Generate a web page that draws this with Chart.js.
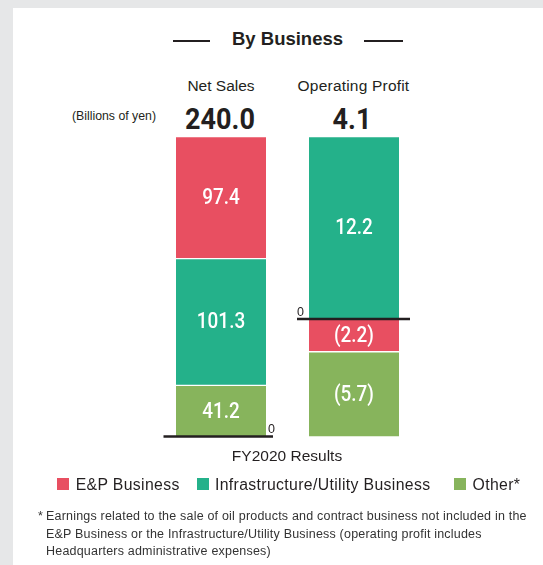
<!DOCTYPE html>
<html>
<head>
<meta charset="utf-8">
<script src="https://cdn.jsdelivr.net/npm/chart.js@4/dist/chart.umd.min.js"></script>
<style>
  html, body { margin: 0; padding: 0; }
  body { width: 543px; height: 565px; overflow: hidden; position: relative; background: #e6e7e8;
         font-family: "Liberation Sans", Arial, Helvetica, sans-serif; color: #231f20; }
  .panel { position: absolute; left: 13px; top: 8px; right: 0; bottom: 0; background: #fff; }
  .wrap { position: absolute; left: 0; top: 0; width: 543px; height: 565px; }
  .t { position: absolute; white-space: nowrap; line-height: 1; }
  .c { transform: translateX(-50%); }
  .rule { position: absolute; height: 2px; background: #231f20; }
  .sw { position: absolute; width: 12px; height: 12px; }
  .total { font-family: Roboto, "Liberation Sans", sans-serif; font-weight: 700; font-size: 30px; }
  .note { position: absolute; left: 46px; top: 508px; font-size: 12.5px; letter-spacing: 0.2px; line-height: 17.5px; white-space: nowrap; color: #333; }
  .note .star { position: absolute; left: -8px; top: 0; }
</style>
</head>
<body>
<div class="panel"></div>

<!-- heading -->
<div class="rule" style="left:173px;top:40px;width:37px"></div>
<div class="t c" style="left:287.5px;top:30px;font-size:18.5px;font-weight:bold">By Business</div>
<div class="rule" style="left:364px;top:40px;width:39px"></div>

<div class="t c" id="cat0" style="left:221px;top:77.6px;font-size:15.5px"></div>
<div class="t c" id="cat1" style="left:353.5px;top:77.6px;font-size:15.5px;letter-spacing:0.2px"></div>
<div class="t c" style="left:114px;top:110px;font-size:12.3px">(Billions of yen)</div>
<div class="t total" id="tot0" style="left:220px;top:104px;transform:translateX(-50%) scaleX(0.9)"></div>
<div class="t total" id="tot1" style="left:352px;top:104px;transform:translateX(-50%) scaleX(0.9)"></div>

<div class="wrap"><canvas id="chart" width="543" height="565"></canvas></div>

<div class="t c" id="period" style="left:287px;top:447.9px;font-size:15.5px"></div>

<!-- legend -->
<div id="legend"></div>

<div class="note"><span class="star">*</span>Earnings related to the sale of oil products and contract business not included in the<br>E&amp;P Business or the Infrastructure/Utility Business (operating profit includes<br>Headquarters administrative expenses)</div>

<script>
// FY2020 results by business (billions of yen)
const periodLabel = 'FY2020 Results';
const categories = ['Net Sales', 'Operating Profit'];
const totals = [240.0, 4.1];
const seriesNames = ['E&P Business', 'Infrastructure/Utility Business', 'Other*'];
const epValues = [97.4, -2.2];
const infraValues = [101.3, 12.2];
const otherValues = [41.2, -5.7];

const seriesValues = [epValues, infraValues, otherValues];
const seriesColors = ['#e84f61', '#24b18a', '#87b45c'];

// stacking order inside each bar (bottom first for sales; nearest-to-zero first for negatives)
const stackOrder = [[2, 1, 0], [1, 0, 2]];
const axisIds = ['ySales', 'yProfit'];

document.getElementById('cat0').textContent = categories[0];
document.getElementById('cat1').textContent = categories[1];
document.getElementById('tot0').textContent = totals[0].toFixed(1);
document.getElementById('tot1').textContent = totals[1].toFixed(1);
document.getElementById('period').textContent = periodLabel;

// legend
const legendPos = [[56.7, 75.7], [196.7, 215], [453.6, 472.6]];
const legend = document.getElementById('legend');
seriesNames.forEach((name, i) => {
  const sw = document.createElement('div');
  sw.className = 'sw';
  sw.style.left = legendPos[i][0] + 'px';
  sw.style.top = '478.3px';
  sw.style.background = seriesColors[i];
  legend.appendChild(sw);
  const tx = document.createElement('div');
  tx.className = 't';
  tx.style.left = legendPos[i][1] + 'px';
  tx.style.top = '476.6px';
  tx.style.fontSize = '15.8px';
  tx.style.letterSpacing = '0.35px';
  tx.textContent = name;
  legend.appendChild(tx);
});

// one dataset per series per bar, each bound to that bar's own value axis
const datasets = [];
categories.forEach((cat, ci) => {
  stackOrder[ci].forEach(si => {
    const data = categories.map((_, k) => (k === ci ? seriesValues[si][ci] : null));
    datasets.push({
      label: seriesNames[si],
      data,
      yAxisID: axisIds[ci],
      stack: 'all',
      backgroundColor: seriesColors[si],
      borderColor: '#ffffff',
      borderWidth: { top: 1, bottom: 1, left: 0, right: 0 },
      borderSkipped: false,
      barThickness: 90
    });
  });
});

const sumPos = ci => seriesValues.reduce((s, v) => s + Math.max(0, v[ci]), 0);
const sumNeg = ci => seriesValues.reduce((s, v) => s + Math.min(0, v[ci]), 0);

function fmt(v) {
  return v < 0 ? '(' + Math.abs(v).toFixed(1) + ')' : v.toFixed(1);
}

// value labels inside segments plus zero baselines
const barAnnotations = {
  id: 'barAnnotations',
  afterDatasetsDraw(chart) {
    const ctx = chart.ctx;
    ctx.save();
    // segment values
    chart.data.datasets.forEach((ds, di) => {
      const meta = chart.getDatasetMeta(di);
      meta.data.forEach((el, idx) => {
        const v = ds.data[idx];
        if (v === null || v === undefined) return;
        const cy = (el.y + el.base) / 2;
        ctx.save();
        ctx.translate(el.x, cy + 1);
        ctx.scale(0.86, 1);
        ctx.fillStyle = '#ffffff';
        ctx.font = '500 22px Roboto, "Liberation Sans", sans-serif';
        ctx.textAlign = 'center';
        ctx.textBaseline = 'middle';
        ctx.fillText(fmt(v), 0, 0);
        ctx.restore();
      });
    });
    // zero lines
    categories.forEach((cat, ci) => {
      const di = chart.data.datasets.findIndex(d => d.data[ci] !== null);
      const el = chart.getDatasetMeta(di).data[ci];
      const half = el.width / 2;
      const left = el.x - half, right = el.x + half;
      const y0 = chart.scales[axisIds[ci]].getPixelForValue(0);
      ctx.strokeStyle = '#231f20';
      ctx.lineWidth = 2.5;
      ctx.beginPath();
      const yLine = ci === 0 ? y0 - 0.5 : y0;
      if (ci === 0) { ctx.moveTo(left - 12.5, yLine); ctx.lineTo(right + 7, yLine); }
      else { ctx.moveTo(left - 12, yLine); ctx.lineTo(right + 11, yLine); }
      ctx.stroke();
      ctx.fillStyle = '#231f20';
      ctx.font = '12.5px "Liberation Sans", Arial, sans-serif';
      ctx.textAlign = 'left';
      ctx.textBaseline = 'alphabetic';
      if (ci === 0) ctx.fillText('0', right + 2, y0 - 4.5);
      else ctx.fillText('0', left - 12, y0 - 3);
    });
    ctx.restore();
  }
};

new Chart(document.getElementById('chart'), {
  type: 'bar',
  data: { labels: categories, datasets },
  options: {
    responsive: false,
    animation: false,
    layout: { padding: { left: 154.5, right: 122.5, top: 136.5, bottom: 128 } },
    plugins: { legend: { display: false }, tooltip: { enabled: false } },
    scales: {
      x: { display: false, stacked: true, offset: true },
      ySales: { display: false, stacked: true, min: 0, max: totals[0] },
      yProfit: { display: false, stacked: true, min: sumNeg(1), max: sumPos(1) }
    }
  },
  plugins: [barAnnotations]
});
</script>
</body>
</html>
